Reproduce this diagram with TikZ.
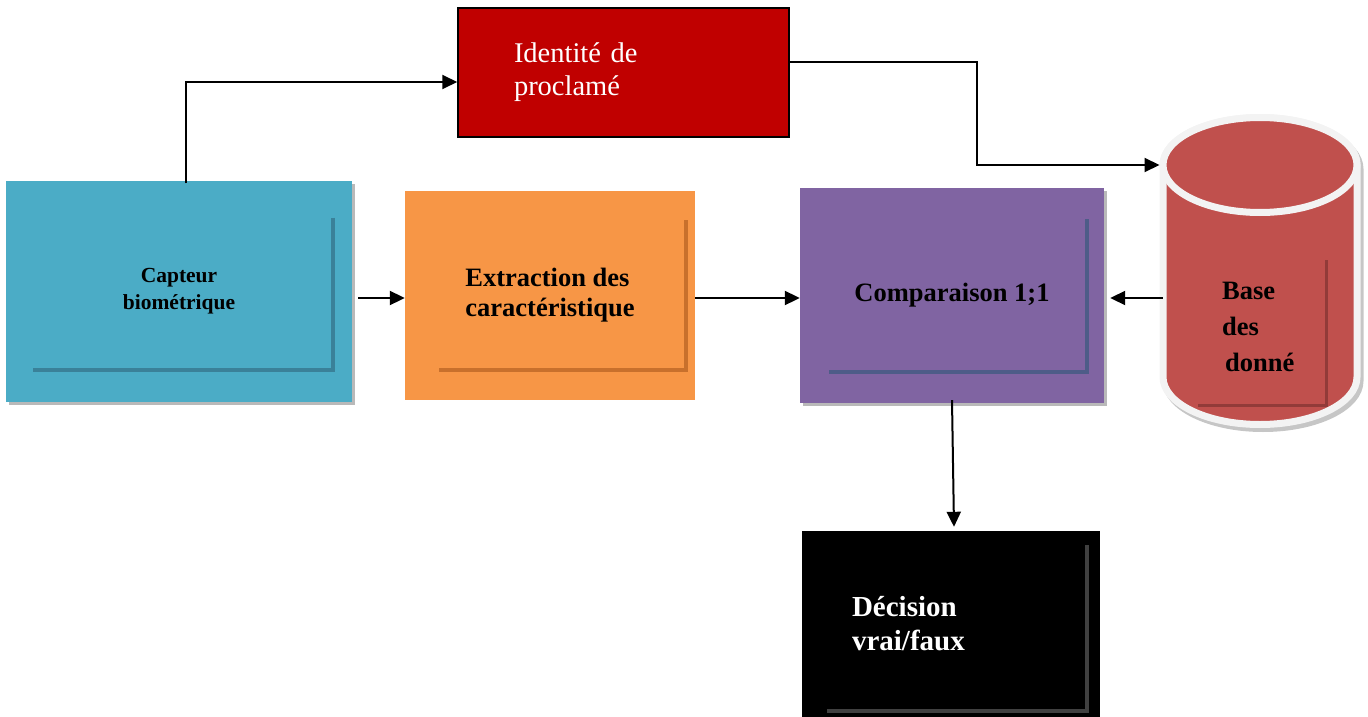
\documentclass[tikz,border=0pt]{standalone}
\usepackage{fontspec}
\setmainfont{Liberation Serif}
\usetikzlibrary{arrows.meta,shadows,calc,shapes.geometric}

\definecolor{capteur}{HTML}{4BACC6}
\definecolor{capteurline}{HTML}{3A8199}
\definecolor{extract}{HTML}{F79646}
\definecolor{extractline}{HTML}{C8702C}
\definecolor{compare}{HTML}{8064A2}
\definecolor{compareline}{HTML}{4E5C88}
\definecolor{claim}{HTML}{C00000}
\definecolor{dbred}{HTML}{C0504D}
\definecolor{dbline}{HTML}{923B39}
\definecolor{decline}{HTML}{404040}
\definecolor{rim}{HTML}{F3F3F3}

\begin{document}
\begin{tikzpicture}[x=1pt,y=-1pt,
  block/.style={rectangle, inner sep=0pt},
  % inner L-shaped bevel line: right inset, top inset, bottom inset, left inset, colour
  inset/.style n args={5}{path picture={
    \draw[line width=4pt,#5]
      ([xshift=-#1pt,yshift=-#2pt]path picture bounding box.north east)
      -- ([xshift=-#1pt,yshift=#3pt]path picture bounding box.south east)
      -- ([xshift=#4pt,yshift=#3pt]path picture bounding box.south west);}},
  boxshadow/.style={drop shadow={shadow xshift=3pt,shadow yshift=-3pt,fill=gray!55,opacity=1}},
  arr/.style={-{Triangle[length=15pt,width=14pt]}, line width=2pt},
  boldtext/.style={font=\bfseries\fontsize{26.5}{30}\selectfont},
]
\useasboundingbox (0,0) rectangle (1368,717);

% blocks
\node[block, fill=capteur, boxshadow, minimum width=346pt, minimum height=221pt,
      font=\bfseries\fontsize{21.5}{27}\selectfont, align=center,
      inset={19}{37}{32}{27}{capteurline}] (cap) at (179,291) {Capteur\\biométrique};

\node[block, fill=extract, minimum width=290pt, minimum height=209pt,
      boldtext, align=left,
      inset={9}{29}{30}{34}{extractline}] (ext) at (550,295.5) {Extraction des\\caractéristique};

\node[block, fill=compare, boxshadow, minimum width=304pt, minimum height=215pt,
      boldtext, inset={17}{31}{31}{29}{compareline}] (cmp) at (952,295.5) {Comparaison 1;1};

\node[block, fill=claim, draw=black, line width=1.5pt, text=white,
      font=\fontsize{28.5}{33}\selectfont, align=left, text width=219pt,
      inner xsep=56pt, minimum height=129pt] (id) at (623.5,72.5) {Identité de\\proclamé};

\node[block, fill=black, text=white, font=\bfseries\fontsize{29}{34}\selectfont,
      align=left, text width=198pt, inner xsep=50pt, minimum height=186pt,
      inset={13}{14}{6}{25}{decline}] (dec) at (951,624) {Décision\\vrai/faux};

% database cylinder
\filldraw[gray!45, line width=7pt, xshift=3pt, yshift=-4pt]
  (1163,165) -- (1163,377) arc[start angle=180,end angle=360,x radius=97pt,y radius=47.5pt]
  -- (1357,165) arc[start angle=0,end angle=180,x radius=97pt,y radius=47.5pt] -- cycle;
\filldraw[fill=dbred, draw=rim, line width=7pt]
  (1163,165) -- (1163,377) arc[start angle=180,end angle=360,x radius=97pt,y radius=47.5pt]
  -- (1357,165) arc[start angle=0,end angle=180,x radius=97pt,y radius=47.5pt] -- cycle;
\node[inner sep=0pt, minimum width=194pt, minimum height=212pt] (db) at (1260,271) {};
\node[ellipse, inner sep=0pt, minimum width=194pt, minimum height=95pt,
      fill=dbred, draw=rim, line width=7pt] (dbtop) at (1260,165) {};
\draw[dbline, line width=3pt] (1326,260) -- (1326,405) -- (1198,405);
\node[boldtext, font=\bfseries\fontsize{26.5}{36}\selectfont, align=left, anchor=west, inner sep=0pt]
  (dbtext) at (1222,327) {Base\\des\\\hspace*{3pt}donné};

% connectors
\draw[arr] ([xshift=7pt,yshift=-3pt]cap.north) |- ([yshift=-9.5pt]id.west);
\draw[arr] ([yshift=10.5pt]id.east) -- ++(187,0) |- (dbtop.west);
\draw[arr] ([xshift=6pt,yshift=-7pt]cap.east) -- ([yshift=-2.5pt]ext.west);
\draw[arr] ([yshift=-2.5pt]ext.east) -- ([yshift=-2.5pt]cmp.west);
\draw[arr] ([yshift=-27pt]db.west) -- ([xshift=6pt,yshift=-2.5pt]cmp.east);
\draw[arr] ([yshift=3pt]cmp.south) -- ([xshift=3pt,yshift=4pt]dec.north);
\end{tikzpicture}
\end{document}
